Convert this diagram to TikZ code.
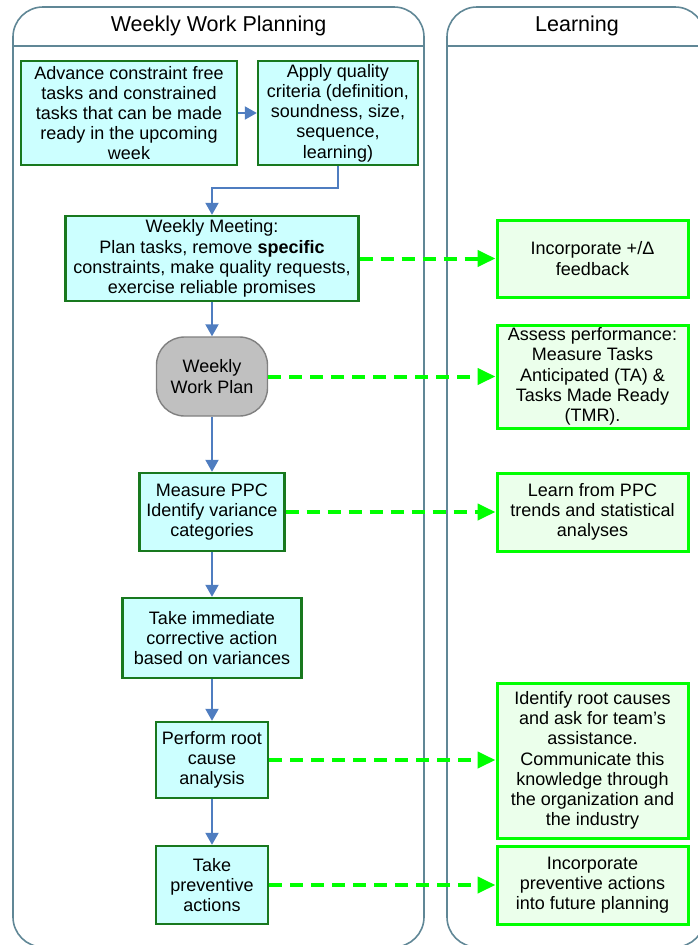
\documentclass[tikz,border=0pt]{standalone}
\usepackage{fontspec}
\setmainfont{Liberation Sans}
\usetikzlibrary{arrows.meta}

\definecolor{lanegray}{RGB}{96,135,150}
\definecolor{taskfill}{RGB}{204,255,255}
\definecolor{taskedge}{RGB}{24,120,30}
\definecolor{learnfill}{RGB}{235,255,235}
\definecolor{learnedge}{RGB}{0,255,0}
\definecolor{flowblue}{RGB}{79,125,192}
\definecolor{planfill}{RGB}{192,192,192}
\definecolor{planedge}{RGB}{128,128,128}

\tikzset{
  lane/.style={draw=lanegray, line width=1.6pt, rounded corners=30pt},
  laneline/.style={draw=lanegray, line width=1.6pt},
  lanetitle/.style={font=\fontsize{21.5}{24}\selectfont, inner sep=0pt},
  txt/.style={font=\fontsize{18}{20.2}\selectfont, align=center, inner sep=0pt},
  task/.style={txt, rectangle, draw=taskedge, fill=taskfill, line width=2.4pt},
  learn/.style={txt, rectangle, draw=learnedge, fill=learnfill, line width=3pt,
                minimum width=191pt},
  plan/.style={txt, rectangle, rounded corners=28pt, draw=planedge, fill=planfill,
               line width=1.4pt},
  flow/.style={draw=flowblue, line width=2pt, -{Triangle[length=12pt,width=13pt]}},
  feedback/.style={draw=learnedge, line width=4pt, dash pattern=on 13pt off 8pt,
                   -{Triangle[length=18pt,width=16pt]}}
}

\begin{document}
\begin{tikzpicture}[x=1pt, y=-1pt]
\useasboundingbox (0,0) rectangle (698,945);
\clip (0,0) rectangle (698,945);

% swim lanes
\draw[lane] (13,7) rectangle (424,947);
\draw[lane] (447,7) rectangle (705,947);
\draw[laneline] (13,46) -- (424,46);
\draw[laneline] (447,46) -- (705,46);
\node[lanetitle] (t1) at (218.5,26) {Weekly Work Planning};
\node[lanetitle] (t2) at (577,26) {Learning};

% planning steps
\node[task, minimum width=216pt, minimum height=104pt] (b1) at (129,113)
  {Advance constraint free\\tasks and constrained\\tasks that can be made\\ready in the upcoming\\week};
\node[task, minimum width=160pt, minimum height=104pt] (b2) at (338,113)
  {Apply quality\\criteria (definition,\\soundness, size,\\sequence,\\learning)};
\node[task, minimum width=293pt, minimum height=85pt] (b3) at (212,258.5)
  {Weekly Meeting:\\Plan tasks, remove \textbf{specific}\\constraints, make quality requests,\\exercise reliable promises};
\node[plan, minimum width=111pt, minimum height=79pt] (wp) at (212,376.5)
  {Weekly\\Work Plan};
\node[task, minimum width=145pt, minimum height=78pt] (b5) at (212,512)
  {Measure PPC\\Identify variance\\categories};
\node[task, minimum width=179pt, minimum height=80pt] (b6) at (212,638)
  {Take immediate\\corrective action\\based on variances};
\node[task, minimum width=112pt, minimum height=76pt] (b7) at (212,760)
  {Perform root\\cause\\analysis};
\node[task, minimum width=112pt, minimum height=78pt] (b8) at (212,885)
  {Take\\preventive\\actions};

% learning steps
\node[learn, minimum height=77pt] (r1) at (592.5,258.5)
  {Incorporate +/Δ\\feedback};
\node[learn, minimum height=103pt] (r2) at (592.5,376.5)
  {Assess performance:\\Measure Tasks\\Anticipated (TA) \&\\Tasks Made Ready\\(TMR).};
\node[learn, minimum height=78pt] (r3) at (592.5,512)
  {Learn from PPC\\trends and statistical\\analyses};
\node[learn, minimum height=155pt] (r4) at (592.5,760.5)
  {Identify root causes\\and ask for team’s\\assistance.\\Communicate this\\knowledge through\\the organization and\\the industry};
\node[learn, minimum height=78pt] (r5) at (592.5,885)
  {Incorporate\\preventive actions\\into future planning};

% work flow
\draw[flow] (b1.east) -- (b2.west);
\draw[flow] (b2.south) -- ++(0,22) -| (b3.north);
\draw[flow] (b3.south) -- (wp.north);
\draw[flow] (wp.south) -- (b5.north);
\draw[flow] (b5.south) -- (b6.north);
\draw[flow] (b6.south) -- (b7.north);
\draw[flow] (b7.south) -- (b8.north);

% feedback into learning
\draw[feedback] (b3.east) -- (r1.west);
\draw[feedback] (wp.east) -- (r2.west);
\draw[feedback] (b5.east) -- (r3.west);
\draw[feedback] (b7.east) -- (b7.east -| r4.west);
\draw[feedback] (b8.east) -- (r5.west);
\end{tikzpicture}
\end{document}
